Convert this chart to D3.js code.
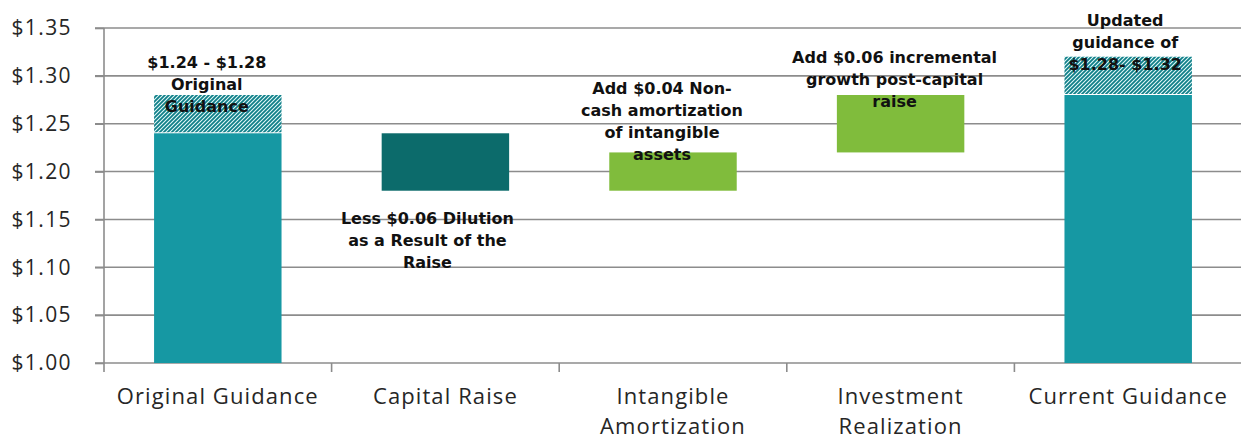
<!DOCTYPE html>
<html>
<head>
<meta charset="utf-8">
<script src="https://cdn.jsdelivr.net/npm/d3@7"></script>
<style>
  html, body { margin: 0; padding: 0; background: #fff; }
  svg { display: block; }
</style>
</head>
<body>
<svg id="chart" width="1241" height="443"></svg>
<script>
// EPS bridge: guidance to updated guidance
const categories = ["Original Guidance", "Capital Raise", "Intangible Amortization", "Investment Realization", "Current Guidance"];
const categoryLines = [["Original Guidance"], ["Capital Raise"], ["Intangible", "Amortization"], ["Investment", "Realization"], ["Current Guidance"]];
const barLow  = [1.00, 1.18, 1.18, 1.22, 1.00];
const barHigh = [1.24, 1.24, 1.22, 1.28, 1.28];
const rangeHigh = [1.28, null, null, null, 1.32];   // upper end of guidance range (hatched)
const barKind = ["total", "decrease", "increase", "increase", "total"];
const yTicks = [1.00, 1.05, 1.10, 1.15, 1.20, 1.25, 1.30, 1.35];
const notes = [
  ["$1.24 - $1.28", "Original", "Guidance"],
  ["Less $0.06 Dilution", "as a Result of the", "Raise"],
  ["Add $0.04 Non-", "cash amortization", "of intangible", "assets"],
  ["Add $0.06 incremental", "growth post-capital", "raise"],
  ["Updated", "guidance of", "$1.28- $1.32"]
];
// value at which each note's first line sits, and its horizontal nudge
const noteAt = [1.315, 1.151, 1.287, 1.320, 1.358];
const noteDx = [-11, -18, -11, -6, -3];

const colors = { total: "#1698a3", decrease: "#0c6b6b", increase: "#80bc3c" };

const svg = d3.select("#chart");
const mLeft = 104, mRight = 1242, mTop = 28, mBottom = 363;

const x = d3.scaleBand().domain(categories).range([mLeft, mRight]).padding(0);
const y = d3.scaleLinear().domain([1.00, 1.35]).range([mBottom, mTop]);
const barW = x.bandwidth() * 0.56;
const cx = c => x(c) + x.bandwidth() / 2;

// hatch for the guidance range
const defs = svg.append("defs");
const pat = defs.append("pattern")
  .attr("id", "hatch").attr("patternUnits", "userSpaceOnUse")
  .attr("width", 4).attr("height", 4);
pat.append("rect").attr("width", 4).attr("height", 4).attr("fill", "#e6fafa");
pat.append("path")
  .attr("d", "M0,4 L4,0 M-1,1 L1,-1 M3,5 L5,3")
  .attr("stroke", "#0f7f88").attr("stroke-width", 1.8);

// gridlines
svg.append("g").selectAll("line").data(yTicks).join("line")
  .attr("x1", mLeft - 9).attr("x2", mRight)
  .attr("y1", d => y(d)).attr("y2", d => y(d))
  .attr("stroke", "#8c8c8c").attr("stroke-width", 1.6);

// y axis
const yAxis = svg.append("g").attr("transform", `translate(${mLeft},0)`)
  .call(d3.axisLeft(y).tickValues(yTicks).tickFormat(d => "$" + d3.format(".2f")(d)).tickSize(9).tickPadding(23));
yAxis.select(".domain").remove();
yAxis.selectAll(".tick line").attr("stroke", "#8c8c8c").attr("stroke-width", 1.6);
yAxis.selectAll("text")
  .attr("font-family", "'Open Sans', 'Noto Sans', sans-serif")
  .attr("font-size", 21).attr("letter-spacing", 1.4).attr("fill", "#262626");
svg.append("line")
  .attr("x1", mLeft).attr("x2", mLeft).attr("y1", mTop).attr("y2", mBottom + 9)
  .attr("stroke", "#8c8c8c").attr("stroke-width", 1.6);

// x axis ticks at band boundaries
const bounds = categories.map(c => x(c)).concat([mRight]);
svg.append("g").selectAll("line").data(bounds.slice(1)).join("line")
  .attr("x1", d => d).attr("x2", d => d).attr("y1", mBottom).attr("y2", mBottom + 9)
  .attr("stroke", "#8c8c8c").attr("stroke-width", 1.6);

// bars
const data = categories.map((c, i) => ({ c, lo: barLow[i], hi: barHigh[i], up: rangeHigh[i], kind: barKind[i] }));
svg.append("g").selectAll("rect").data(data).join("rect")
  .attr("x", d => cx(d.c) - barW / 2).attr("width", barW)
  .attr("y", d => y(d.hi)).attr("height", d => y(d.lo) - y(d.hi))
  .attr("fill", d => colors[d.kind]);
svg.append("g").selectAll("rect").data(data.filter(d => d.up != null)).join("rect")
  .attr("x", d => cx(d.c) - barW / 2).attr("width", barW)
  .attr("y", d => y(d.up)).attr("height", d => y(d.hi) - y(d.up) - 1)
  .attr("fill", "url(#hatch)");

// category labels
const catG = svg.append("g")
  .attr("font-family", "'Open Sans', 'Noto Sans', sans-serif")
  .attr("font-size", 22).attr("letter-spacing", 1.1)
  .attr("fill", "#262626").attr("text-anchor", "middle");
categories.forEach((c, i) => {
  const t = catG.append("text").attr("x", cx(c)).attr("y", mBottom + 41);
  categoryLines[i].forEach((line, j) => {
    t.append("tspan").attr("x", cx(c)).attr("dy", j === 0 ? 0 : 30).text(line);
  });
});

// annotations
const noteG = svg.append("g")
  .attr("font-family", "'DejaVu Sans', sans-serif")
  .attr("font-weight", "bold").attr("font-size", 16).attr("fill", "#111")
  .attr("text-anchor", "middle");
notes.forEach((lines, i) => {
  const px = cx(categories[i]) + noteDx[i];
  const t = noteG.append("text").attr("x", px).attr("y", y(noteAt[i]) + 6);
  lines.forEach((line, j) => {
    t.append("tspan").attr("x", px).attr("dy", j === 0 ? 0 : 22).text(line);
  });
});
</script>
</body>
</html>
